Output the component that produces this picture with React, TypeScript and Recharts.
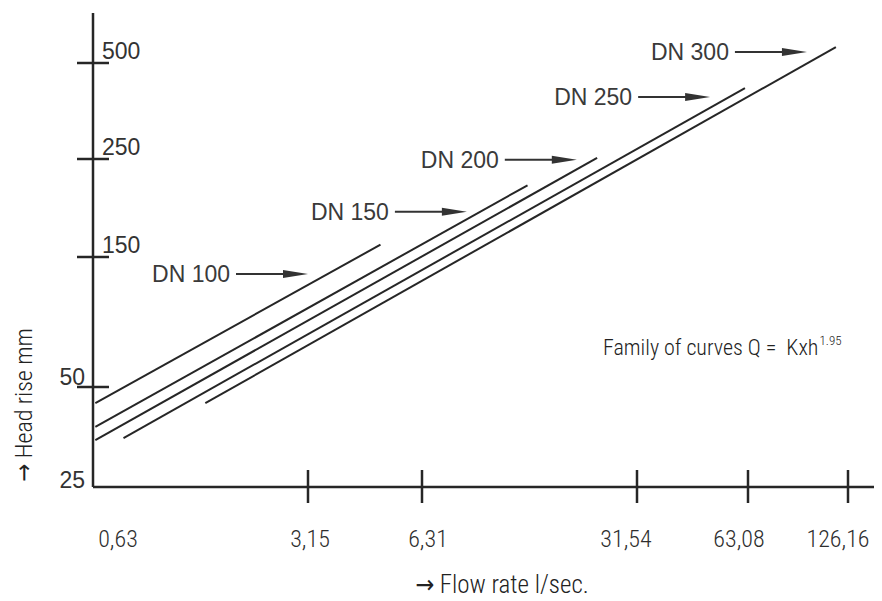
import React from "react";
import { ComposedChart, Line, XAxis, YAxis, ReferenceDot, Customized } from "recharts";

// ---------- data ----------
const flowTicks = [0.63, 3.15, 6.31, 31.54, 63.08, 126.16];
const flowTickLabels = ["0,63", "3,15", "6,31", "31,54", "63,08", "126,16"];
const headTicks = [25, 50, 150, 250, 500];
const headTickLabels = ["25", "50", "150", "250", "500"];

const seriesNames = ["DN 100", "DN 150", "DN 200", "DN 250", "DN 300"];
const dn100Flow = [0.52, 4.9];
const dn100Head = [44.7, 160];
const dn150Flow = [0.52, 13.9];
const dn150Head = [37.9, 218];
const dn200Flow = [0.52, 23.4];
const dn200Head = [34.6, 252];
const dn250Flow = [0.66, 61.9];
const dn250Head = [35.1, 417];
const dn300Flow = [1.32, 116];
const dn300Head = [44.7, 561];

// where each DN label's arrow points (flow, head)
const arrowFlow = [3.15, 8.83, 20.1, 49.8, 94.9];
const arrowHead = [130, 190, 249, 391, 541];

// ---------- schematic axis geometry (not uniform in the original) ----------
const FLOW_STOPS = [25, 215, 329, 544, 655, 755];
const HEAD_STOPS = [0, 100, 230, 328, 424];
const X_MAX = 782;
const Y_MAX = 474;
// small horizontal nudges of the x tick labels, as in the original drawing
const X_LABEL_NUDGE = [0, 2, 6, -11, -9, -10];

function makeScale(vals: number[], stops: number[]) {
  return (v: number) => {
    const lv = Math.log10(v);
    let i = vals.length - 2;
    for (let k = 0; k < vals.length - 1; k++) {
      if (v <= vals[k + 1]) {
        i = k;
        break;
      }
    }
    const a = Math.log10(vals[i]);
    const b = Math.log10(vals[i + 1]);
    return stops[i] + ((lv - a) / (b - a)) * (stops[i + 1] - stops[i]);
  };
}
const fx = makeScale(flowTicks, FLOW_STOPS);
const fy = makeScale(headTicks, HEAD_STOPS);

const build = (fl: number[], hd: number[]) => fl.map((f, i) => ({ xp: fx(f), yp: fy(hd[i]) }));
const series = [
  build(dn100Flow, dn100Head),
  build(dn150Flow, dn150Head),
  build(dn200Flow, dn200Head),
  build(dn250Flow, dn250Head),
  build(dn300Flow, dn300Head),
];

const INK = "#262626";
const SANS = "'Liberation Sans', Arial, Helvetica, sans-serif";
const NARROW = "'Liberation Sans Narrow', 'Roboto Condensed', 'DejaVu Sans Condensed', sans-serif";

const XTick = (props: any) => {
  const { x, y, payload } = props;
  const i = FLOW_STOPS.indexOf(payload.value);
  return (
    <g>
      {i > 0 && <line x1={x} x2={x} y1={y - 17} y2={y + 16} stroke={INK} strokeWidth={2.5} />}
      <text
        x={x + X_LABEL_NUDGE[i]}
        y={y + 60}
        textAnchor="middle"
        fontFamily={NARROW}
        fontSize={24}
        fontWeight={300}
        fill="#2e2e2e"
      >
        {flowTickLabels[i]}
      </text>
    </g>
  );
};

const YTick = (props: any) => {
  const { x, y, payload } = props;
  const i = HEAD_STOPS.indexOf(payload.value);
  const right = i >= 2;
  return (
    <g>
      {i > 0 && <line x1={x - 16} x2={x + 16} y1={y} y2={y} stroke={INK} strokeWidth={2.5} />}
      <text
        x={right ? x + 9 : x - 8}
        y={i === 0 ? y + 1 : i === 1 ? y - 2 : y - 4}
        textAnchor={right ? "start" : "end"}
        fontFamily={SANS}
        fontSize={23}
        fill="#333"
      >
        {headTickLabels[i]}
      </text>
    </g>
  );
};

const ArrowLabel = (name: string) => (props: any) => {
  const { cx, cy } = props;
  return (
    <g>
      <line x1={cx - 72} x2={cx - 20} y1={cy} y2={cy} stroke="#333" strokeWidth={2} />
      <polygon points={`${cx},${cy} ${cx - 25},${cy - 4} ${cx - 25},${cy + 4}`} fill="#333" />
      <text x={cx - 78} y={cy + 8} textAnchor="end" fontFamily={SANS} fontSize={23} fill="#3a3a3a">
        {name}
      </text>
    </g>
  );
};

const Annotations = () => (
  <g>
    <text x={595} y={347} fontFamily={NARROW} fontSize={22} fontWeight={300} fill="#222">
      {"Family of curves Q\u00A0=\u00A0\u00A0Kxh"}
      <tspan fontSize={13} dx={1} dy={-10}>
        1.95
      </tspan>
    </text>
    <text x={494} y={585} textAnchor="middle" fontFamily={NARROW} fontSize={25} fontWeight={300} fill="#222">
      → Flow rate l/sec.
    </text>
    <text
      x={24}
      y={397}
      transform="rotate(-90, 24, 397)"
      textAnchor="middle"
      fontFamily={NARROW}
      fontSize={24}
      fontWeight={300}
      fill="#222"
    >
      → Head rise mm
    </text>
  </g>
);

export default function App() {
  return (
    <ComposedChart width={874} height={593} margin={{ top: 5, right: 7, bottom: 74, left: 45 }}>
      <XAxis
        type="number"
        dataKey="xp"
        domain={[0, X_MAX]}
        ticks={FLOW_STOPS}
        interval={0}
        allowDataOverflow
        tickLine={false}
        tickSize={0}
        tickMargin={0}
        height={40}
        axisLine={{ stroke: INK, strokeWidth: 2.5 }}
        tick={<XTick />}
      />
      <YAxis
        type="number"
        dataKey="yp"
        domain={[0, Y_MAX]}
        ticks={HEAD_STOPS}
        interval={0}
        allowDataOverflow
        tickLine={false}
        tickSize={0}
        tickMargin={0}
        width={40}
        axisLine={{ stroke: INK, strokeWidth: 2.5 }}
        tick={<YTick />}
      />
      {series.map((d, i) => (
        <Line
          key={seriesNames[i]}
          name={seriesNames[i]}
          data={d}
          dataKey="yp"
          type="linear"
          stroke={INK}
          strokeWidth={2}
          dot={false}
          activeDot={false}
          isAnimationActive={false}
        />
      ))}
      {seriesNames.map((n, i) => (
        <ReferenceDot
          key={"lab" + n}
          x={fx(arrowFlow[i])}
          y={fy(arrowHead[i])}
          r={0}
          ifOverflow="visible"
          shape={ArrowLabel(n)}
        />
      ))}
      <Customized component={<Annotations />} />
    </ComposedChart>
  );
}
